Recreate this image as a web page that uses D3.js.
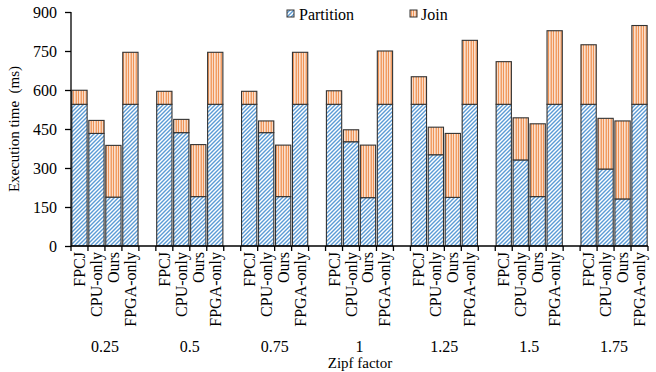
<!DOCTYPE html>
<html>
<head>
<meta charset="utf-8">
<script src="https://cdn.jsdelivr.net/npm/d3@7"></script>
<style>
  html, body { margin: 0; padding: 0; background: #fff; }
  svg { display: block; font-family: "Liberation Serif", "Times New Roman", serif; }
</style>
</head>
<body>
<svg id="chart" width="656" height="372"></svg>
<script>
// Zipf factor groups and join methods
const zipfFactors = ["0.25", "0.5", "0.75", "1", "1.25", "1.5", "1.75"];
const methods = ["FPCJ", "CPU-only", "Ours", "FPGA-only"];

// Partition phase time (ms), one row per method, one value per Zipf factor
const partitionFPCJ = [545, 545, 545, 545, 545, 545, 545];
const partitionCPU  = [433, 436, 436, 401, 351, 331, 296];
const partitionOurs = [188, 190, 190, 186, 187, 190, 181];
const partitionFPGA = [545, 545, 545, 545, 545, 545, 545];

// Join phase time (ms)
const joinFPCJ = [54, 50, 50, 52, 106, 164, 229];
const joinCPU  = [50, 51, 45, 46, 106, 162, 195];
const joinOurs = [199, 200, 198, 202, 246, 280, 300];
const joinFPGA = [200, 200, 200, 205, 246, 283, 303];

const yTicks = [0, 150, 300, 450, 600, 750, 900];
const seriesNames = ["Partition", "Join"];

const partitionByMethod = [partitionFPCJ, partitionCPU, partitionOurs, partitionFPGA];
const joinByMethod = [joinFPCJ, joinCPU, joinOurs, joinFPGA];

// Category slots: four bars per group, with an empty slot between groups
const slots = [];
zipfFactors.forEach((z, g) => {
  methods.forEach(m => slots.push({ key: z + "|" + m, zipf: z, method: m, blank: false }));
  if (g < zipfFactors.length - 1) slots.push({ key: "gap" + g, blank: true });
});

const rows = [];
zipfFactors.forEach((z, g) => {
  methods.forEach((m, mi) => {
    rows.push({ key: z + "|" + m, zipf: z, method: m,
      Partition: partitionByMethod[mi][g], Join: joinByMethod[mi][g] });
  });
});

const svg = d3.select("#chart");
const x0 = 71, x1 = 648, yBase = 246, yTop = 12;

const x = d3.scaleBand().domain(slots.map(s => s.key)).range([x0, x1]).paddingInner(0.1).paddingOuter(0.05);
const step = (x1 - x0) / slots.length;
const y = d3.scaleLinear().domain([0, 900]).range([yBase, yTop]);

// Fill patterns
const defs = svg.append("defs");
const pPart = defs.append("pattern").attr("id", "pat-partition")
  .attr("patternUnits", "userSpaceOnUse").attr("width", 4).attr("height", 4);
pPart.append("rect").attr("width", 4).attr("height", 4).attr("fill", "#fff");
pPart.append("path").attr("d", "M-1,1 L1,-1 M0,4 L4,0 M3,5 L5,3")
  .attr("stroke", "#5b9bd5").attr("stroke-width", 1.4);

const pJoin = defs.append("pattern").attr("id", "pat-join")
  .attr("patternUnits", "userSpaceOnUse").attr("width", 2.5).attr("height", 4);
pJoin.append("rect").attr("width", 2.5).attr("height", 4).attr("fill", "#fff");
pJoin.append("rect").attr("x", 0.5).attr("width", 1.3).attr("height", 4).attr("fill", "#ed7d31");

const fills = { Partition: "url(#pat-partition)", Join: "url(#pat-join)" };

const stack = d3.stack().keys(seriesNames)(rows);

svg.append("g").selectAll("g").data(stack).join("g")
  .attr("fill", d => fills[d.key])
  .selectAll("rect").data(d => d).join("rect")
  .attr("x", d => x(d.data.key))
  .attr("width", x.bandwidth())
  .attr("y", d => y(d[1]))
  .attr("height", d => y(d[0]) - y(d[1]))
  .attr("stroke", "#333")
  .attr("stroke-width", 1.1);

// Y axis
const yAxis = svg.append("g").attr("transform", `translate(${x0},0)`)
  .call(d3.axisLeft(y).tickValues(yTicks).tickSize(6).tickPadding(8).tickFormat(d3.format("d")));
yAxis.select(".domain").attr("stroke", "#000").attr("stroke-width", 1.3).attr("d", `M0,${yTop}V${yBase}`);
yAxis.selectAll(".tick line").attr("stroke", "#000").attr("stroke-width", 1.3);
yAxis.selectAll(".tick text").attr("font-size", 16).attr("fill", "#000")
  .attr("font-family", "Liberation Serif, Times New Roman, serif");

// X axis: line plus ticks at every slot boundary
const xg = svg.append("g");
xg.append("line").attr("x1", x0).attr("x2", x1).attr("y1", yBase).attr("y2", yBase)
  .attr("stroke", "#000").attr("stroke-width", 1.3);
d3.range(slots.length + 1).forEach(i => {
  const bx = x0 + i * step;
  xg.append("line").attr("x1", bx).attr("x2", bx).attr("y1", yBase).attr("y2", yBase + 5)
    .attr("stroke", "#000").attr("stroke-width", 1.3);
});

// Rotated method labels under each bar
xg.selectAll("text.method").data(slots.filter(s => !s.blank)).join("text")
  .attr("class", "method")
  .attr("transform", d => `translate(${x(d.key) + x.bandwidth() / 2 + 5.5},${yBase + 6}) rotate(-90)`)
  .attr("text-anchor", "end")
  .attr("font-size", 16)
  .attr("fill", "#000")
  .text(d => d.method);

// Zipf factor group labels
xg.selectAll("text.group").data(zipfFactors).join("text")
  .attr("class", "group")
  .attr("x", z => {
    const a = x(z + "|" + methods[0]), b = x(z + "|" + methods[3]) + x.bandwidth();
    return (a + b) / 2;
  })
  .attr("y", 352)
  .attr("text-anchor", "middle")
  .attr("font-size", 16)
  .attr("fill", "#000")
  .text(z => z);

// Axis titles
svg.append("text").attr("x", 360).attr("y", 368).attr("text-anchor", "middle")
  .attr("font-size", 15).attr("fill", "#000").text("Zipf factor");
svg.append("text").attr("transform", `translate(19,${(yBase + yTop) / 2}) rotate(-90)`)
  .attr("text-anchor", "middle").attr("font-size", 15).attr("fill", "#000")
  .text("Execution time  (ms)").style("white-space", "pre");

// Legend
const legend = svg.append("g");
const legendItems = [{ name: "Partition", sx: 287, tx: 299 }, { name: "Join", sx: 410, tx: 421 }];
legendItems.forEach(it => {
  legend.append("rect").attr("x", it.sx).attr("y", 10).attr("width", 7).attr("height", 7)
    .attr("fill", fills[it.name]).attr("stroke", "#333").attr("stroke-width", 1);
  legend.append("text").attr("x", it.tx).attr("y", 19.5).attr("font-size", 16)
    .attr("fill", "#000").text(it.name);
});
</script>
</body>
</html>
